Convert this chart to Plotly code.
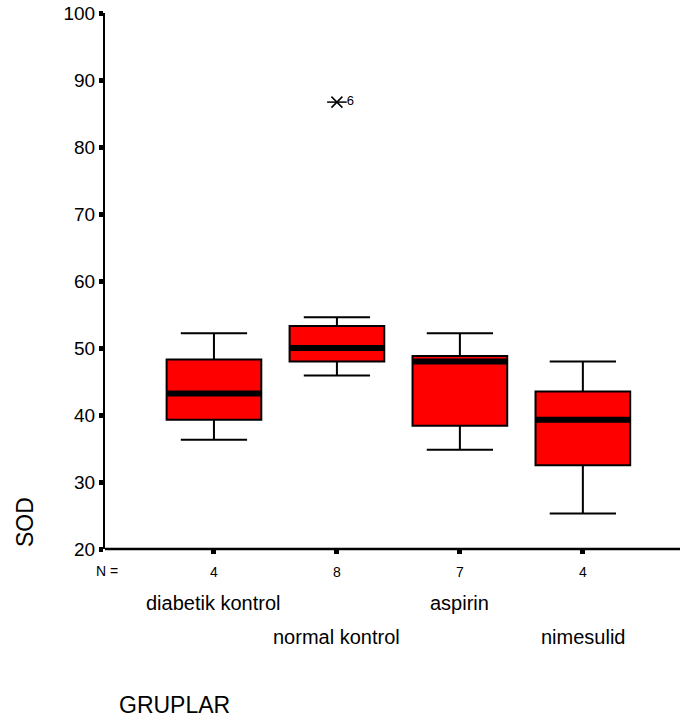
import plotly.graph_objects as go

groups = ["diabetik kontrol", "normal kontrol", "aspirin", "nimesulid"]
n_counts = [4, 8, 7, 4]
lower_whisker = [36.3, 45.9, 34.8, 25.3]
q1 = [39.3, 48.0, 38.4, 32.5]
median = [43.2, 50.0, 48.0, 39.3]
q3 = [48.3, 53.3, 48.8, 43.5]
upper_whisker = [52.2, 54.6, 52.2, 48.0]
outlier_group = [1]
outlier_value = [86.7]
outlier_label = ["6"]

pos = list(range(len(groups)))
box_w = 0.77
FONT = "Liberation Sans, Arial, sans-serif"

fig = go.Figure()
fig.add_trace(go.Box(
    x=pos, q1=q1, median=median, q3=q3,
    lowerfence=lower_whisker, upperfence=upper_whisker,
    width=box_w, whiskerwidth=0.7, boxpoints=False,
    fillcolor="#FF0000", line=dict(color="black", width=2),
    showlegend=False, hoverinfo="skip"))

mx, my = [], []
for p, m in zip(pos, median):
    mx += [p - box_w / 2, p + box_w / 2, None]
    my += [m, m, None]
fig.add_trace(go.Scatter(x=mx, y=my, mode="lines",
                         line=dict(color="black", width=6),
                         showlegend=False, hoverinfo="skip"))

fig.add_trace(go.Scatter(
    x=outlier_group, y=outlier_value, mode="markers",
    marker=dict(symbol="x-thin-open", size=11, color="black",
                line=dict(color="black", width=1.5)),
    showlegend=False, hoverinfo="skip"))
fig.add_trace(go.Scatter(
    x=outlier_group, y=outlier_value, mode="markers+text",
    marker=dict(symbol="line-ew-open", size=14, color="black",
                line=dict(color="black", width=1.5)),
    text=outlier_label, textposition="middle right",
    textfont=dict(family=FONT, size=13, color="black"),
    showlegend=False, hoverinfo="skip"))

annotations = []
for i, g in enumerate(groups):
    annotations.append(dict(x=i, y=0, xref="x", yref="paper", text=g,
                            showarrow=False, yanchor="middle",
                            yshift=-54 if i % 2 == 0 else -88,
                            font=dict(family=FONT, size=20, color="black")))
annotations.append(dict(x=0, y=0, xref="paper", yref="paper", text="N =",
                        showarrow=False, xanchor="center", yanchor="middle",
                        xshift=2, yshift=-22,
                        font=dict(family=FONT, size=14, color="black")))
annotations.append(dict(x=0, y=20, xref="paper", yref="y", text="SOD",
                        showarrow=False, textangle=-90, xshift=-80,
                        xanchor="center", yanchor="bottom",
                        font=dict(family=FONT, size=23, color="black")))
annotations.append(dict(x=-0.32, y=0, xref="x", yref="paper", text="GRUPLAR",
                        showarrow=False, yshift=-171,
                        font=dict(family=FONT, size=23, color="black")))

fig.update_layout(
    width=680, height=724,
    margin=dict(l=105, r=0, t=13, b=175),
    paper_bgcolor="white", plot_bgcolor="white",
    font=dict(family=FONT, color="black"),
    annotations=annotations,
    xaxis=dict(range=[-0.886, 3.79], tickvals=pos,
               ticktext=[str(n) for n in n_counts],
               tickfont=dict(size=14), ticks="outside", ticklen=4, tickwidth=5,
               ticklabelstandoff=6,
               tickcolor="black", showline=False,
               showgrid=False, zeroline=False),
    yaxis=dict(range=[20, 100], tickvals=list(range(20, 101, 10)),
               tickfont=dict(size=19), ticks="outside", ticklen=4, tickwidth=5,
               tickcolor="black", showline=True, linecolor="black", linewidth=2,
               showgrid=False, zeroline=False),
    shapes=[dict(type="line", xref="paper", yref="paper", x0=0, x1=1.05,
                 y0=0, y1=0, layer="above",
                 line=dict(color="black", width=2.5))],
)

fig.write_html("out.html", config={"displayModeBar": False},
               post_script="document.documentElement.style.overflow='hidden';document.body.style.margin='0px';document.body.style.overflow='hidden';")
